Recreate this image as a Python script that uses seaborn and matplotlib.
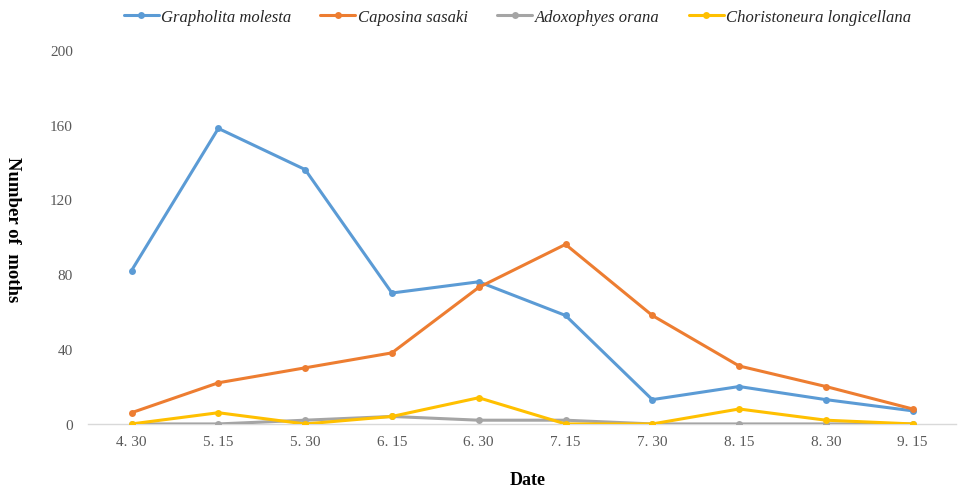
import matplotlib
matplotlib.use("Agg")
import matplotlib.pyplot as plt
import seaborn as sns
import pandas as pd
from matplotlib.lines import Line2D

dates = ["4. 30", "5. 15", "5. 30", "6. 15", "6. 30", "7. 15", "7. 30", "8. 15", "8. 30", "9. 15"]
grapholita = [82, 158, 136, 70, 76, 58, 13, 20, 13, 7]
caposina = [6, 22, 30, 38, 73, 96, 58, 31, 20, 8]
adoxophyes = [0, 0, 2, 4, 2, 2, 0, 0, 0, 0]
choristoneura = [0, 6, 0, 4, 14, 0, 0, 8, 2, 0]
species = ["Grapholita molesta", "Caposina sasaki", "Adoxophyes orana", "Choristoneura longicellana"]
colors = ["#5B9BD5", "#ED7D31", "#A5A5A5", "#FFC000"]
yticks = [0, 40, 80, 120, 160, 200]

rows = []
for sp, vals in zip(species, [grapholita, caposina, adoxophyes, choristoneura]):
    for i, (d, v) in enumerate(zip(dates, vals)):
        rows.append({"pos": i, "date": d, "value": v, "species": sp})
df = pd.DataFrame(rows)

sns.set_theme(style="white")
plt.rcParams["font.family"] = ["Liberation Serif", "DejaVu Serif"]

fig = plt.figure(figsize=(9.58, 4.89), dpi=100)
ax = fig.add_axes([0.092, 0.131, 0.906, 0.765])

sns.lineplot(data=df, x="pos", y="value", hue="species", hue_order=species,
             palette=colors, marker="o", markersize=5, markeredgewidth=0,
             linewidth=2.2, ax=ax, legend=False, sort=False)

ax.set_xlim(-0.5, 9.5)
ax.set_ylim(0, 200)
ax.set_xticks(range(len(dates)))
ax.set_xticklabels(dates)
ax.set_yticks(yticks)
ax.tick_params(axis="both", length=0, labelsize=11, labelcolor="#595959")
ax.tick_params(axis="x", pad=8)
ax.tick_params(axis="y", pad=11)
for s in ["top", "right", "left"]:
    ax.spines[s].set_visible(False)
ax.spines["bottom"].set_color("#D9D9D9")
ax.spines["bottom"].set_linewidth(1.0)
ax.spines["bottom"].set_zorder(0)
ax.set_xlabel("")
ax.set_ylabel("")

fig.text(0.551, 0.0, "Date", ha="center", va="bottom", fontsize=13, fontweight="bold", color="#000000")
fig.text(0.013, 0.530, "Number of  moths", ha="center", va="center", rotation=-90,
         fontsize=13.5, fontweight="bold", color="#000000")

handles = [Line2D([0], [0], color=c, lw=2.2, marker="o", markersize=5, markeredgewidth=0) for c in colors]
leg = fig.legend(handles, species, loc="center", bbox_to_anchor=(0.540, 0.963), ncol=4,
                 frameon=False, prop={"family": ["Liberation Serif", "DejaVu Serif"], "style": "italic", "size": 12},
                 handlelength=2.1, handletextpad=0.15, columnspacing=1.75)
for t in leg.get_texts():
    t.set_color("#262626")

fig.savefig("out.png", dpi=100)
